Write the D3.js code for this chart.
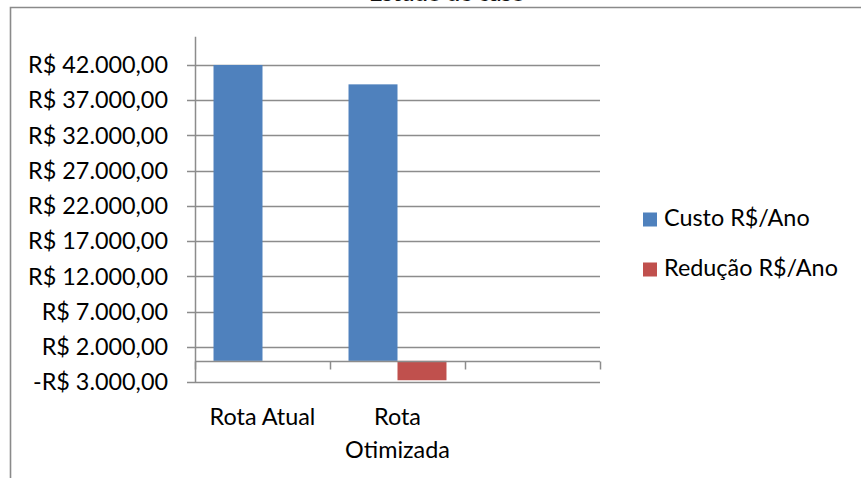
<!DOCTYPE html>
<html><head><meta charset="utf-8">
<script src="https://cdn.jsdelivr.net/npm/d3@7"></script>
<style>body{margin:0;background:#fff}svg{display:block}</style>
</head><body>
<svg id="chart" width="861" height="478"></svg>
<script>
const categories = ["Rota Atual", "Rota Otimizada", ""];
const categoryLines = [["Rota Atual"], ["Rota", "Otimizada"], [""]];
const seriesNames = ["Custo R$/Ano", "Redução R$/Ano"];
const custo = [42000, 39250, null];
const reducao = [0, -2750, null];
const tickValues = [-3000, 2000, 7000, 12000, 17000, 22000, 27000, 32000, 37000, 42000];
const colors = ["#4F81BD", "#C0504D"];
const titleText = "Estudo de caso";

const svg = d3.select("#chart");
const FONT = "Lato, 'Open Sans', sans-serif";

// measure font so text widths match the reference
const probe = svg.append("text").attr("font-family", FONT).attr("font-size", 100).text("R$ 42.000,00");
const fs = 100 * 140 / probe.node().getComputedTextLength();
probe.remove();

const fmt = v => (v < 0 ? "-R$ " : "R$ ") + d3.format(",.2f")(Math.abs(v)).replace(/,/g, "#").replace(".", ",").replace(/#/g, ".");

// outer border
svg.append("path").attr("d", "M10.5,478 L10.5,7.5 L861,7.5")
  .attr("fill", "none").attr("stroke", "#8a8a8a").attr("stroke-width", 1.6);

// title (mostly cut off above, as in the reference)
svg.append("text").attr("x", 447).attr("y", 0.8).attr("text-anchor", "middle")
  .attr("font-family", FONT).attr("font-weight", "bold").attr("font-size", fs).attr("fill", "#111")
  .text(titleText);

const x = d3.scaleBand().domain(categories).range([195, 600]).padding(0);
const xi = d3.scaleBand().domain(seriesNames).range([0, x.bandwidth()]).paddingInner(0).paddingOuter(0.378);
const y = d3.scaleLinear().domain([-3000, 46000]).range([382, 36.8]);

const grid = "#8c8c8c";
// gridlines with left ticks
svg.append("g").selectAll("line").data(tickValues).join("line")
  .attr("x1", 187).attr("x2", 600)
  .attr("y1", d => Math.round(y(d)) + 0.5).attr("y2", d => Math.round(y(d)) + 0.5)
  .attr("stroke", grid).attr("stroke-width", 1.5);

// y labels
svg.append("g").selectAll("text").data(tickValues).join("text")
  .attr("x", 168).attr("y", d => y(d)).attr("dy", "0.35em").attr("text-anchor", "end")
  .attr("font-family", FONT).attr("font-size", fs).attr("fill", "#000")
  .text(fmt);

// bars
const series = [custo, reducao];
series.forEach((vals, si) => {
  svg.append("g").selectAll("rect").data(vals.map((v, i) => ({v, c: categories[i]})).filter(d => d.v !== null && d.v !== 0))
    .join("rect")
    .attr("x", d => x(d.c) + xi(seriesNames[si]))
    .attr("width", xi.bandwidth())
    .attr("y", d => y(Math.max(0, d.v)))
    .attr("height", d => Math.abs(y(d.v) - y(0)))
    .attr("fill", colors[si]);
});

// y axis line
svg.append("line").attr("x1", 195.5).attr("x2", 195.5).attr("y1", y.range()[1]).attr("y2", 382)
  .attr("stroke", grid).attr("stroke-width", 1.5);

// x axis (zero line) with ticks
const zy = Math.round(y(0)) + 0.5;
svg.append("line").attr("x1", 195).attr("x2", 600).attr("y1", zy).attr("y2", zy)
  .attr("stroke", grid).attr("stroke-width", 1.5);
const bounds = categories.map(c => x(c)).concat([x.range()[1]]);
svg.append("g").selectAll("line").data(bounds).join("line")
  .attr("x1", d => d + 0.5).attr("x2", d => d + 0.5).attr("y1", zy).attr("y2", zy + 8)
  .attr("stroke", grid).attr("stroke-width", 1.5);

// x labels
categoryLines.forEach((lines, i) => {
  const t = svg.append("text").attr("text-anchor", "middle")
    .attr("font-family", FONT).attr("font-size", fs).attr("fill", "#000");
  lines.forEach((ln, j) => {
    t.append("tspan").attr("x", x(categories[i]) + x.bandwidth() / 2).attr("y", 425 + j * 32.5).text(ln);
  });
});

// legend
seriesNames.forEach((s, i) => {
  const ly = 226 + i * 50;
  svg.append("rect").attr("x", 643).attr("y", ly - 13.5).attr("width", 14).attr("height", 14).attr("fill", colors[i]);
  svg.append("text").attr("x", 664).attr("y", ly).attr("font-family", FONT).attr("font-size", fs).attr("fill", "#000").text(s);
});
</script>
</body></html>
